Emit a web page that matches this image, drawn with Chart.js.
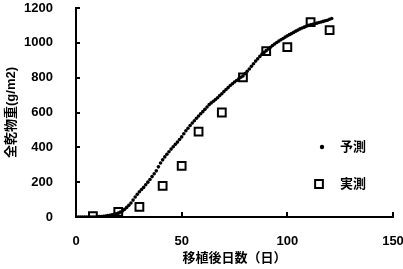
<!DOCTYPE html>
<html>
<head>
<meta charset="utf-8">
<script src="https://cdn.jsdelivr.net/npm/chart.js@4/dist/chart.umd.min.js"></script>
<style>
  html, body { margin: 0; padding: 0; background: #fff; }
  #wrap { width: 403px; height: 269px; }
</style>
</head>
<body>
<div id="wrap"><canvas id="chart" width="403" height="269"></canvas></div>
<script>
// ── Data ──────────────────────────────────────────────────────
const predDays = [
  1, 2, 3, 4, 5, 6, 7, 8, 9, 10, 11, 12, 13, 14, 15, 16, 17, 18, 19, 20,
  21, 22, 23, 24, 25, 26, 27, 28, 29, 30, 31, 32, 33, 34, 35, 36, 37, 38, 39, 40,
  41, 42, 43, 44, 45, 46, 47, 48, 49, 50, 51, 52, 53, 54, 55, 56, 57, 58, 59, 60,
  61, 62, 63, 64, 65, 66, 67, 68, 69, 70, 71, 72, 73, 74, 75, 76, 77, 78, 79, 80,
  81, 82, 83, 84, 85, 86, 87, 88, 89, 90, 91, 92, 93, 94, 95, 96, 97, 98, 99, 100,
  101, 102, 103, 104, 105, 106, 107, 108, 109, 110, 111, 112, 113, 114, 115, 116, 117, 118, 119, 120, 121
];
const predValues = [
  0, 0, 0, 0, 0, 0, 0, 0, 0, 1, 2, 3, 4, 6, 8, 10, 12, 15, 18, 22,
  28, 35, 44, 55, 67, 80, 97, 115, 130, 145, 158, 170, 185, 200, 215, 232, 248, 265, 288, 310,
  328, 345, 360, 375, 390, 403, 417, 430, 445, 460, 478, 495, 510, 525, 540, 553, 567, 580, 593, 605,
  618, 632, 645, 655, 665, 675, 685, 697, 708, 720, 732, 743, 755, 765, 775, 784, 793, 802, 810, 823,
  837, 850, 865, 880, 895, 908, 922, 935, 945, 955, 965, 975, 985, 993, 1002, 1010, 1018, 1025, 1033, 1040,
  1047, 1053, 1060, 1067, 1073, 1080, 1085, 1090, 1095, 1100, 1103, 1107, 1110, 1113, 1117, 1120, 1123, 1127, 1130, 1135, 1140
];
const obsDays   = [8, 20, 30, 41, 50, 58, 69, 79, 90, 100, 111, 120];
const obsValues = [5, 30, 58, 179, 294, 490, 600, 802, 952, 975, 1119, 1073];

const xTicks = [0, 50, 100, 150];
const yTicks = [0, 200, 400, 600, 800, 1000, 1200];
const seriesLabels = ['予測', '実測'];
const xTitle = '移植後日数（日）';
const yTitle = '全乾物重(g/m2)';

// ── Fonts ─────────────────────────────────────────────────────
const FONT = "'Liberation Sans', 'Noto Sans CJK JP', sans-serif";
Chart.defaults.font.family = FONT;
Chart.defaults.color = '#000';

// ── Inward tick marks ─────────────────────────────────────────
const inwardTicks = {
  id: 'inwardTicks',
  afterDatasetsDraw(chart) {
    const { ctx, scales: { x, y } } = chart;
    ctx.save();
    ctx.strokeStyle = '#000';
    ctx.lineWidth = 2;
    yTicks.forEach(v => {
      const py = Math.round(y.getPixelForValue(v));
      ctx.beginPath(); ctx.moveTo(x.left, py); ctx.lineTo(x.left + 4, py); ctx.stroke();
    });
    xTicks.forEach(v => {
      const px = Math.round(x.getPixelForValue(v));
      ctx.beginPath(); ctx.moveTo(px, y.bottom); ctx.lineTo(px, y.bottom - 5); ctx.stroke();
    });
    ctx.restore();
  }
};

// ── Legend inside plot (right side) ───────────────────────────
const sideLegend = {
  id: 'sideLegend',
  afterDraw(chart) {
    const { ctx } = chart;
    const rows = [
      { ds: chart.data.datasets[0], x: 322, y: 147 },
      { ds: chart.data.datasets[1], x: 319, y: 184 },
    ];
    ctx.save();
    rows.forEach(r => {
      ctx.fillStyle = r.ds.backgroundColor;
      ctx.strokeStyle = r.ds.borderColor;
      ctx.lineWidth = r.ds.borderWidth;
      Chart.helpers.drawPoint(ctx, {
        pointStyle: r.ds.pointStyle,
        radius: r.ds.pointRadius + (r.ds.pointStyle === 'circle' ? 0.4 : 0),
        borderWidth: r.ds.borderWidth,
        rotation: 0
      }, r.x, r.y);
      ctx.fillStyle = '#000';
      ctx.font = "bold 13px " + FONT;
      ctx.textBaseline = 'middle';
      ctx.fillText(r.ds.label, 340, r.y);
    });
    ctx.restore();
  }
};

// ── Chart ─────────────────────────────────────────────────────
new Chart(document.getElementById('chart'), {
  type: 'scatter',
  data: {
    datasets: [
      {
        label: seriesLabels[0],
        data: predDays.map((d, i) => ({ x: d, y: predValues[i] })),
        pointStyle: 'circle',
        pointRadius: 1.8,
        borderWidth: 0,
        backgroundColor: '#000',
        borderColor: '#000',
      },
      {
        label: seriesLabels[1],
        data: obsDays.map((d, i) => ({ x: d, y: obsValues[i] })),
        pointStyle: 'rect',
        pointRadius: 5.5,
        borderWidth: 2,
        backgroundColor: '#fff',
        borderColor: '#000',
      }
    ]
  },
  options: {
    responsive: false,
    animation: false,
    layout: { padding: { left: 2, top: 8, right: 10, bottom: 3 } },
    plugins: { legend: { display: false }, tooltip: { enabled: false } },
    scales: {
      x: {
        type: 'linear',
        min: 0, max: 150,
        afterBuildTicks: s => { s.ticks = xTicks.map(v => ({ value: v })); },
        afterFit: s => { s.height = 49; s.paddingLeft = 0; s.paddingRight = 0; },
        ticks: { padding: 9, font: { size: 13, weight: 'bold' }, color: '#000', maxRotation: 0, callback: v => String(v) },
        grid: { display: false },
        border: { display: true, color: '#000', width: 2 },
        title: { display: true, text: xTitle, font: { size: 13, weight: 'bold' }, color: '#000', padding: 0 }
      },
      y: {
        type: 'linear',
        min: 0, max: 1200,
        afterBuildTicks: s => { s.ticks = yTicks.map(v => ({ value: v })); },
        afterFit: s => { s.width = 74; s.paddingTop = 0; s.paddingBottom = 0; },
        ticks: { padding: 15, font: { size: 13, weight: 'bold' }, color: '#000', callback: v => String(v) },
        grid: { display: false },
        border: { display: true, color: '#000', width: 2 },
        title: { display: true, text: yTitle, font: { size: 13, weight: 'bold' }, color: '#000', padding: 2 }
      }
    }
  },
  plugins: [inwardTicks, sideLegend]
});
</script>
</body>
</html>
